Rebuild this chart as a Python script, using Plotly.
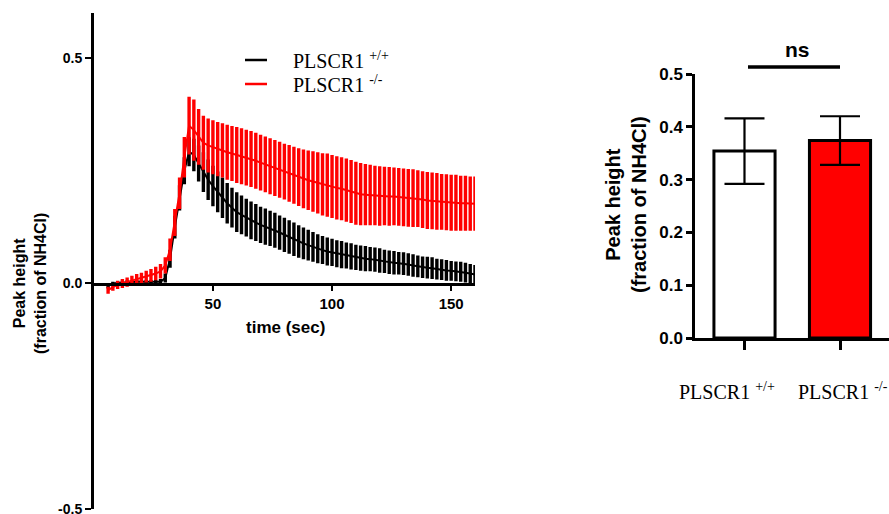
import plotly.graph_objects as go

# --- datos: curso temporal (media y SEM) ---
tiempo = [6, 8, 10, 12, 14, 16, 18, 20, 22, 24, 26, 28, 30, 32, 34, 36, 38, 40, 42, 44,
          46, 48, 50, 52, 54, 56, 58, 60, 62, 64, 66, 68, 70, 72, 74, 76, 78, 80, 82, 84,
          86, 88, 90, 92, 94, 96, 98, 100, 102, 104, 106, 108, 110, 112, 114, 116, 118, 120,
          122, 124, 126, 128, 130, 132, 134, 136, 138, 140, 142, 144, 146, 148, 150, 152,
          154, 156, 158, 160]

media_wt = [-0.005, 0.0, 0.001, 0.002, 0.003, 0.003, 0.004, 0.004, 0.004, 0.004, 0.003, 0.004,
            0.012, 0.055, 0.125, 0.19, 0.25, 0.292, 0.285, 0.266, 0.247, 0.23, 0.216,
            0.203, 0.19, 0.178, 0.168, 0.158, 0.152, 0.146, 0.14, 0.135, 0.13,
            0.126, 0.122, 0.118, 0.113, 0.108, 0.103, 0.098, 0.093, 0.089, 0.085, 0.081, 0.077,
            0.074, 0.071, 0.069,
            0.066, 0.064, 0.062, 0.06, 0.058, 0.056, 0.055, 0.054, 0.053, 0.051, 0.049, 0.047,
            0.046, 0.045, 0.044,
            0.042, 0.04, 0.038, 0.036, 0.035, 0.034, 0.032, 0.031, 0.029, 0.028, 0.027, 0.026,
            0.024, 0.022, 0.02]
sem_wt = [0.006, 0.004, 0.004, 0.004, 0.004, 0.004, 0.004, 0.004, 0.004, 0.004, 0.005, 0.006,
          0.01, 0.02, 0.025, 0.028, 0.03, 0.032, 0.036, 0.04, 0.044, 0.045, 0.045,
          0.045, 0.045, 0.045, 0.044, 0.044, 0.043, 0.042, 0.042, 0.041, 0.04,
          0.04, 0.039, 0.039, 0.038, 0.038, 0.037, 0.037, 0.036, 0.035, 0.034, 0.033, 0.032,
          0.031, 0.031, 0.03,
          0.03, 0.03, 0.029, 0.029, 0.028, 0.028, 0.028, 0.027, 0.027, 0.027, 0.026, 0.026,
          0.026, 0.025, 0.025,
          0.025, 0.025, 0.024, 0.024, 0.024, 0.024, 0.023, 0.023, 0.023, 0.022, 0.022, 0.022,
          0.022, 0.021, 0.021]

media_ko = [-0.015, -0.008, -0.003, 0.0, 0.003, 0.006, 0.009, 0.012, 0.015, 0.018, 0.022, 0.027,
            0.04, 0.075, 0.135, 0.2, 0.28, 0.35, 0.34, 0.325, 0.312, 0.306, 0.302,
            0.298, 0.295, 0.291, 0.288, 0.285, 0.282, 0.279, 0.276, 0.272, 0.268,
            0.264, 0.26, 0.256, 0.252, 0.248, 0.244, 0.24, 0.236, 0.232, 0.229, 0.226, 0.223,
            0.22, 0.218, 0.215,
            0.212, 0.21, 0.207, 0.204, 0.2, 0.198, 0.197, 0.196, 0.195, 0.194, 0.194, 0.193,
            0.193, 0.192, 0.191,
            0.19, 0.189, 0.188, 0.186, 0.184, 0.183, 0.182, 0.181, 0.18, 0.179, 0.179, 0.178,
            0.178, 0.177, 0.177]
sem_ko = [0.008, 0.008, 0.009, 0.01, 0.01, 0.011, 0.012, 0.012, 0.013, 0.014, 0.015, 0.016,
          0.018, 0.025, 0.03, 0.035, 0.045, 0.064, 0.068, 0.062, 0.06, 0.06, 0.06,
          0.06, 0.06, 0.061, 0.061, 0.062, 0.062, 0.062, 0.062, 0.062, 0.062,
          0.062, 0.062, 0.062, 0.062, 0.062, 0.063, 0.063, 0.064, 0.065, 0.066, 0.067, 0.068,
          0.069, 0.07, 0.07,
          0.07, 0.07, 0.07, 0.07, 0.07, 0.069, 0.068, 0.067, 0.066, 0.066, 0.065, 0.065,
          0.064, 0.064, 0.064,
          0.064, 0.064, 0.063, 0.063, 0.063, 0.063, 0.063, 0.062, 0.062, 0.062, 0.062, 0.061,
          0.061, 0.06, 0.06]

# --- datos: altura de pico (barras) ---
grupos = ["PLSCR1 <sup>+/+</sup>", "PLSCR1 <sup>-/-</sup>"]
pico_media = [0.354, 0.374]
pico_sem = [0.062, 0.046]

colores = ["#000000", "#ff0000"]
rellenos = ["#ffffff", "#ff0000"]

SANS = "Liberation Sans"
SERIF = "Liberation Serif"

fig = go.Figure()

# curvas con barras de error (SEM)
for media, sem, color in [(media_wt, sem_wt, colores[0]), (media_ko, sem_ko, colores[1])]:
    fig.add_trace(go.Scatter(
        x=tiempo, y=media, mode="lines",
        line=dict(color=color, width=2),
        error_y=dict(type="data", array=sem, color=color, thickness=3.4, width=0),
        showlegend=False, xaxis="x", yaxis="y"
    ))

# barras
fig.add_trace(go.Bar(
    x=[0, 1], y=pico_media, width=0.64,
    marker=dict(color=rellenos, line=dict(color="black", width=3)),
    error_y=dict(type="data", array=pico_sem, color="black", thickness=2.2, width=20),
    showlegend=False, xaxis="x2", yaxis="y2"
))

eje = dict(showgrid=False, zeroline=False, showline=True, linecolor="black",
           ticks="outside", tickcolor="black", automargin=False, ticklabeloverflow="allow")

fig.update_layout(
    width=889, height=514,
    margin=dict(l=0, r=0, t=0, b=0),
    paper_bgcolor="white", plot_bgcolor="white",
    font=dict(family=SANS, color="black"),
    xaxis=dict(**eje, domain=[0.1055, 0.5343], range=[0, 160], anchor="free",
               position=0.4484, linewidth=2.5, tickwidth=2, ticklen=6,
               tickvals=[50, 100, 150],
               tickfont=dict(family=SANS, size=15, weight="bold")),
    yaxis=dict(**eje, domain=[0.0097, 0.975], range=[-0.5, 0.6], anchor="x",
               linewidth=2.5, tickwidth=2, ticklen=6,
               tickvals=[-0.5, 0, 0.5], ticktext=["-0.5", "0.0", "0.5"],
               tickfont=dict(family=SANS, size=14, weight="bold")),
    xaxis2=dict(**eje, domain=[0.7818, 1.0], range=[-0.518, 1.513], anchor="y2",
                linewidth=2.5, tickwidth=2.5, ticklen=9, tickvals=[0, 1],
                showticklabels=False),
    yaxis2=dict(**eje, domain=[0.3424, 0.856], range=[0, 0.5], anchor="x2",
                linewidth=2.5, tickwidth=2.5, ticklen=6, dtick=0.1, tickformat=".1f",
                tickfont=dict(family=SANS, size=17, weight="bold")),
)

def texto(t, x, y, size, family=SANS, bold=True, angle=0, xanchor="center"):
    fig.add_annotation(text=t, xref="paper", yref="paper", x=x / 889, y=(514 - y) / 514,
                       xanchor=xanchor, yanchor="middle", textangle=angle, showarrow=False,
                       font=dict(family=family, size=size, color="black",
                                 weight="bold" if bold else "normal"))

# títulos de ejes
titulo_y = "Peak height<br>(fraction of NH4Cl)"
texto(titulo_y, 30, 284, 16, angle=-90)
texto(titulo_y, 626, 205, 20, angle=-90)
texto("time (sec)", 285, 327, 17)

# leyenda manual
for i, (nombre, color) in enumerate(zip(grupos, colores)):
    yl = 60 + 24 * i
    fig.add_shape(type="line", xref="paper", yref="paper", x0=245 / 889, x1=267 / 889,
                  y0=(514 - yl) / 514, y1=(514 - yl) / 514, line=dict(color=color, width=2.5))
    texto(nombre, 291, yl, 20, family=SERIF, bold=False, xanchor="left")

# etiquetas de grupos del gráfico de barras
for nombre, xl in zip(grupos, [677, 796]):
    texto(nombre, xl, 391, 20, family=SERIF, bold=False, xanchor="left")

# significancia
fig.add_shape(type="line", xref="paper", yref="paper", x0=748 / 889, x1=840 / 889,
              y0=(514 - 67) / 514, y1=(514 - 67) / 514, line=dict(color="black", width=3.5))
texto("ns", 797, 49, 21)

fig.write_html("out.html", config={"displayModeBar": False},
               post_script="document.body.style.margin='0';")
